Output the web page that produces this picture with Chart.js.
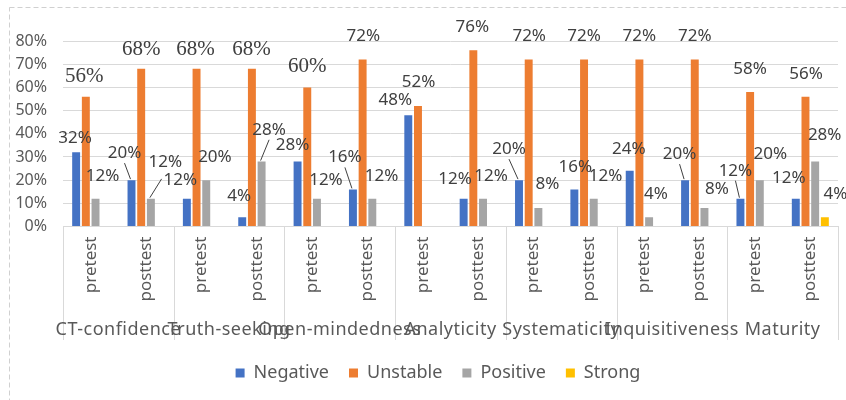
<!DOCTYPE html>
<html><head><meta charset="utf-8">
<script src="https://cdn.jsdelivr.net/npm/chart.js@4.4.0/dist/chart.umd.min.js"></script>
<style>html,body{margin:0;padding:0;background:#fff}#wrap{width:846px;height:400px;position:relative}</style>
</head><body><div id="wrap"><canvas id="c" width="846" height="400"></canvas></div>
<script>
// ---- data ----
const groups = ['CT-confidence','Truth-seeking','Open-mindedness','Analyticity','Systematicity','Inquisitiveness','Maturity'];
const phases = ['pretest','posttest'];
const categories = groups.flatMap(() => phases);
const seriesNames = ['Negative','Unstable','Positive','Strong'];
const negative = [32,20,12,4,28,16,48,12,20,16,24,20,12,12];
const unstable = [56,68,68,68,60,72,52,76,72,72,72,72,58,56];
const positive = [12,12,20,28,12,12,0,12,8,12,4,8,20,28];
const strong   = [0,0,0,0,0,0,0,0,0,0,0,0,0,4];
const yMax = 80, yStep = 10;

// ---- styles ----
const colors = ['#4472C4','#ED7D31','#A5A5A5','#FFC000'];
// label nudges relative to each bar's top-centre (style only)
const labelStyle = [
  {dx:[-1,-7,-21.5,-3,-5,-8,-13,-8.5,-10,1,-1,-5.5,-5,-7],
   dy:[-14,-27,-37,-21,-16,-32,-15.5,-20,-31,-22,-21.5,-26,-28,-21],
   leader:[1,5,8,11,12], serif:[]},
  {dx:[-1.5,0,-1,-0.5,0,0.7,0.5,-1,0.5,0,0,0,0,0.5],
   dy:[-20.5,-19.8,-19.8,-19.8,-20.8,-23,-23.8,-23.3,-23,-23,-23,-23,-22.4,-22.5],
   leader:[], serif:[0,1,2,3,4]},
  {dx:[7,29.5,8.7,7.5,9,9.2,0,8,9,11.8,6.8,12.5,10.5,9.5],
   dy:[-22.3,-18.8,-23.3,-31.8,-18.8,-22.8,0,-22.8,-23.5,-22.8,-22.8,-18.5,-25.8,-26.3],
   leader:[1,3], serif:[]},
  {dx:Array(14).fill(10.5), dy:Array(14).fill(-22.8), leader:[], serif:[]}
];
const FONT = '"Noto Sans", sans-serif';

const frame = {
  id:'frame',
  afterLayout(chart){
    // let the y tick labels extend into the left padding without being clipped
    chart.scales.y.left = 0;
  },
  beforeDraw(chart){
    const c = chart.ctx;
    c.save();
    c.fillStyle = '#ffffff';
    c.fillRect(0,0,chart.width,chart.height);
    c.strokeStyle = '#D0D0D0'; c.lineWidth = 1; c.setLineDash([5,3]);
    c.strokeRect(9.5,7.5,chart.width+20,chart.height+20);
    c.restore();
  }
};

const groupAxis = {
  id:'groupAxis',
  afterDraw(chart){
    const c = chart.ctx, xs = chart.scales.x;
    const n = categories.length / groups.length;
    const bounds = [xs.left];
    for (let g = 1; g < groups.length; g++) {
      bounds.push((xs.getPixelForValue(g*n-1) + xs.getPixelForValue(g*n)) / 2);
    }
    bounds.push(xs.right);
    c.save();
    c.strokeStyle = '#D9D9D9'; c.lineWidth = 1;
    bounds.forEach(b => {
      const x = Math.round(b) + 0.5;
      c.beginPath(); c.moveTo(x, xs.top); c.lineTo(x, xs.top + 113.5); c.stroke();
    });
    c.fillStyle = '#595959';
    c.font = '18px ' + FONT;
    c.textAlign = 'center'; c.textBaseline = 'alphabetic';
    try { c.letterSpacing = '0.5px'; } catch(e) {}
    groups.forEach((g, i) => {
      const cx = (xs.getPixelForValue(i*n) + xs.getPixelForValue(i*n+n-1)) / 2;
      c.fillText(g, cx, xs.top + 108.5);
    });
    c.restore();
  }
};

const dataLabels = {
  id:'dataLabels',
  afterDatasetsDraw(chart){
    const c = chart.ctx;
    c.save();
    chart.data.datasets.forEach((ds, si) => {
      const meta = chart.getDatasetMeta(si);
      const st = labelStyle[si];
      meta.data.forEach((bar, i) => {
        const v = ds.data[i];
        if (!v) return;
        const txt = v + '%';
        const serif = st.serif.includes(i);
        c.font = serif ? '21px "Liberation Serif", serif' : '17px ' + FONT;
        c.textAlign = 'center'; c.textBaseline = 'middle';
        c.fillStyle = '#404040';
        const lx = bar.x + st.dx[i], ly = bar.y + st.dy[i];
        c.fillText(txt, lx, ly);
        if (st.leader.includes(i)) {
          const w = c.measureText(txt).width;
          let sx, sy;
          if (Math.abs(bar.x - lx) > w / 2) {
            sx = bar.x < lx ? lx - w/2 - 2 : lx + w/2 + 2;
            sy = ly - 1;
          } else {
            sx = lx; sy = ly + 10;
          }
          c.strokeStyle = '#404040'; c.lineWidth = 1;
          c.beginPath(); c.moveTo(sx, sy); c.lineTo(bar.x - 1, bar.y - 1); c.stroke();
        }
      });
    });
    c.restore();
  }
};

const seriesData = [negative, unstable, positive, strong];
new Chart(document.getElementById('c'), {
  type:'bar',
  data:{
    labels:categories,
    datasets: seriesNames.map((name, i) => ({
      label:name, data:seriesData[i], backgroundColor:colors[i], borderWidth:0
    }))
  },
  options:{
    responsive:false, animation:false,
    layout:{padding:{left:38,right:8,top:41,bottom:8}},
    datasets:{bar:{categoryPercentage:0.70, barPercentage:0.82}},
    scales:{
      x:{
        grid:{display:false, drawTicks:false},
        border:{display:true, color:'#D9D9D9'},
        ticks:{minRotation:90, maxRotation:90, autoSkip:false, padding:10,
               font:{family:FONT, size:17}, color:'#595959'},
        afterFit:s => { s.height = 117.5; }
      },
      y:{
        min:0, max:yMax,
        ticks:{stepSize:yStep, callback:v => v + '%', padding:16,
               font:{family:FONT, size:16}, color:'#595959'},
        grid:{color:'#D9D9D9', drawTicks:false},
        border:{display:false},
        afterFit:s => { s.width = 25; }
      }
    },
    plugins:{
      legend:{position:'bottom',
        labels:{boxWidth:9, boxHeight:9, padding:20,
                font:{family:FONT, size:18}, color:'#595959'}},
      tooltip:{enabled:false}
    }
  },
  plugins:[frame, groupAxis, dataLabels]
});
</script>
</body></html>
